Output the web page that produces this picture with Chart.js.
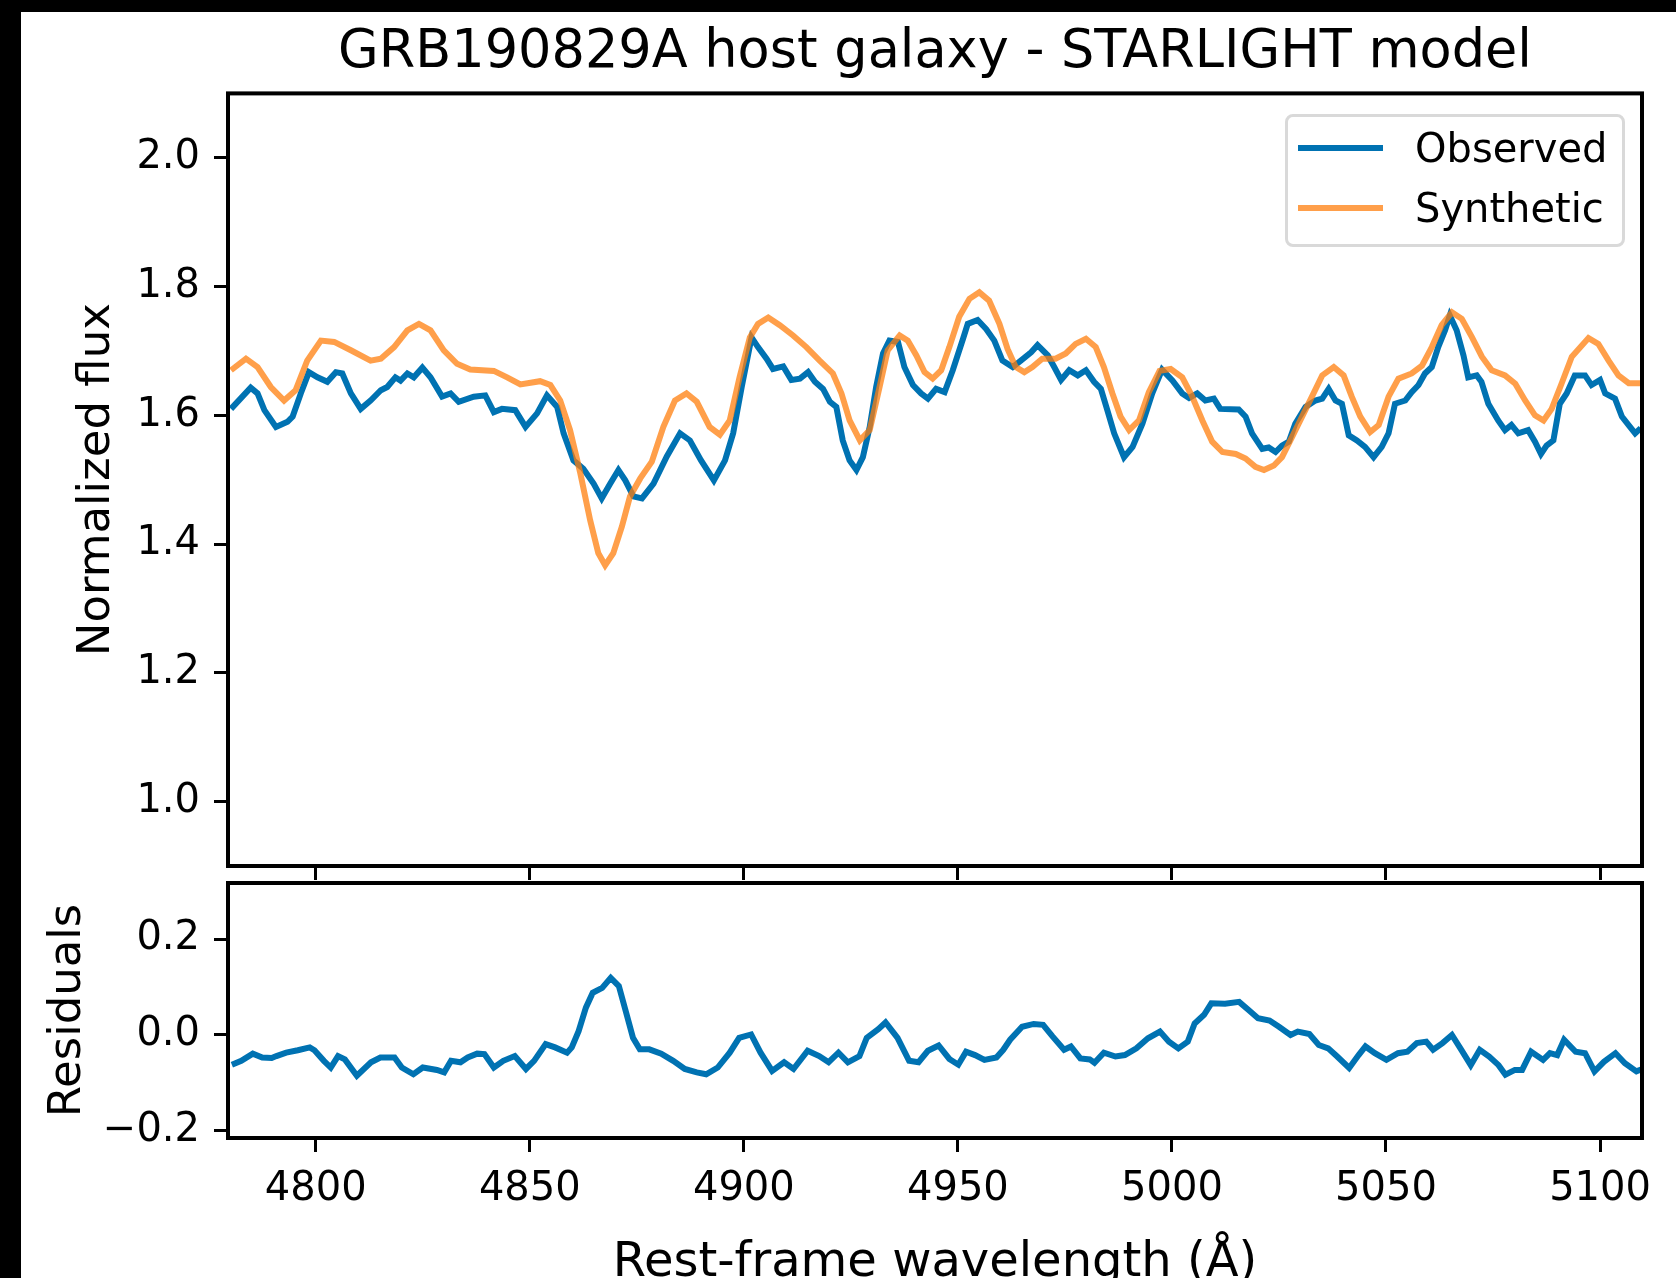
<!DOCTYPE html>
<html>
<head>
<meta charset="utf-8">
<script src="https://cdn.jsdelivr.net/npm/chart.js@4.4.1/dist/chart.umd.min.js"></script>
<style>
  html, body { margin: 0; padding: 0; width: 1676px; height: 1278px; overflow: hidden; background: #000; }
  #fig { position: absolute; left: 21px; top: 12px; width: 1655px; height: 1266px; background: #fff; overflow: hidden; }
  canvas { position: absolute; left: 0; }
  #top { top: 0; }
  #bot { top: 831px; }
  #legend { position: absolute; left: 1264px; top: 102px; width: 340px; height: 133px; box-sizing: border-box;
            border: 3px solid #d9d9d9; border-radius: 8px; background: rgba(255,255,255,0.8);
            font-family: "DejaVu Sans"; font-size: 40px; line-height: 48px; color: #000; }
  #legend .sw { position: absolute; left: 10px; width: 85px; height: 6px; }
  #legend .lab { position: absolute; left: 127px; white-space: nowrap; }
</style>
</head>
<body>
<div id="fig">
  <canvas id="top" width="1655" height="899"></canvas>
  <canvas id="bot" width="1655" height="457"></canvas>
  <div id="legend"></div>
</div>
<script>
// axis limits and ticks
const xMin = 4779.5, xMax = 5109.8;
const xTicks = [4800, 4850, 4900, 4950, 5000, 5050, 5100];
const fluxTicks = [1.0, 1.2, 1.4, 1.6, 1.8, 2.0];
const resTicks = [-0.2, 0.0, 0.2];

// observed spectrum
const obsWave = [4780.2,4784.8,4786.4,4788.0,4790.7,4793.4,4794.6,4796.5,4798.4,4800.4,4802.7,4804.7,4806.2,4808.2,4810.5,4812.8,4815.2,4816.7,4818.6,4819.8,4821.4,4822.9,4824.9,4826.8,4829.5,4831.5,4833.4,4836.9,4839.6,4841.6,4843.5,4846.6,4849.0,4851.7,4854.0,4856.4,4857.9,4860.2,4862.5,4864.9,4866.8,4868.8,4870.7,4872.3,4874.2,4876.2,4878.9,4882.0,4885.1,4887.4,4890.0,4893.0,4895.6,4897.5,4899.5,4901.8,4903.3,4905.3,4906.8,4909.2,4911.1,4913.1,4915.0,4916.6,4918.5,4920.1,4921.6,4923.1,4924.7,4926.3,4927.8,4929.4,4930.9,4932.5,4934.0,4936.0,4937.5,4939.5,4941.4,4943.0,4944.9,4946.9,4948.8,4951.2,4952.3,4954.6,4956.6,4958.5,4960.4,4962.8,4964.7,4967.1,4968.6,4971.0,4972.5,4974.1,4976.0,4978.0,4979.9,4981.8,4983.4,4984.9,4986.5,4988.8,4990.8,4993.1,4995.4,4997.7,5000.1,5002.4,5004.0,5005.9,5007.8,5009.8,5011.3,5015.6,5017.2,5018.7,5021.1,5022.6,5024.2,5025.7,5027.3,5028.8,5031.2,5033.5,5035.1,5036.6,5038.2,5039.7,5041.3,5043.2,5045.1,5047.1,5049.0,5050.6,5052.1,5054.5,5056.0,5057.6,5059.1,5060.7,5062.2,5063.8,5064.9,5066.5,5068.1,5069.2,5071.2,5072.3,5073.9,5076.2,5077.8,5079.3,5080.9,5083.2,5084.8,5086.2,5087.5,5089.1,5090.6,5092.2,5094.1,5096.5,5098.0,5100.0,5101.2,5103.5,5105.1,5107.0,5108.2,5109.5];
const obsFlux = [1.610,1.643,1.634,1.608,1.582,1.590,1.598,1.634,1.667,1.659,1.652,1.667,1.665,1.634,1.610,1.623,1.639,1.644,1.659,1.654,1.665,1.659,1.674,1.659,1.629,1.634,1.621,1.629,1.631,1.605,1.610,1.608,1.582,1.603,1.631,1.613,1.572,1.530,1.517,1.494,1.471,1.494,1.515,1.499,1.474,1.471,1.494,1.536,1.572,1.561,1.530,1.499,1.530,1.572,1.644,1.721,1.706,1.688,1.672,1.676,1.655,1.657,1.667,1.652,1.641,1.621,1.613,1.561,1.530,1.515,1.535,1.582,1.644,1.696,1.716,1.714,1.675,1.647,1.634,1.626,1.641,1.636,1.670,1.719,1.742,1.748,1.734,1.716,1.685,1.675,1.685,1.698,1.709,1.693,1.675,1.655,1.670,1.662,1.670,1.652,1.641,1.608,1.572,1.535,1.551,1.587,1.634,1.671,1.654,1.634,1.627,1.634,1.623,1.626,1.610,1.609,1.598,1.572,1.548,1.550,1.543,1.553,1.559,1.587,1.613,1.623,1.626,1.641,1.623,1.618,1.569,1.561,1.551,1.535,1.551,1.572,1.618,1.623,1.636,1.647,1.665,1.675,1.706,1.732,1.755,1.732,1.693,1.659,1.662,1.652,1.618,1.592,1.577,1.585,1.572,1.577,1.559,1.540,1.553,1.561,1.618,1.634,1.662,1.662,1.647,1.655,1.634,1.626,1.598,1.582,1.572,1.580];

// STARLIGHT synthetic spectrum
const synWave = [4780.2,4783.7,4786.4,4789.5,4792.6,4795.3,4798.0,4801.2,4804.3,4808.2,4812.8,4815.2,4818.3,4821.4,4824.1,4826.8,4829.9,4833.0,4836.1,4841.6,4844.7,4847.8,4852.4,4854.8,4857.1,4859.4,4861.8,4864.1,4866.0,4867.6,4869.5,4871.5,4873.4,4875.8,4878.5,4881.2,4883.9,4886.6,4889.0,4892.0,4894.4,4896.7,4899.0,4901.4,4903.3,4905.7,4908.4,4911.5,4914.6,4917.7,4920.8,4922.8,4924.7,4927.1,4929.4,4931.7,4933.6,4936.4,4938.3,4940.3,4942.2,4944.1,4946.1,4948.0,4950.3,4952.7,4955.0,4957.3,4959.7,4961.6,4963.5,4965.5,4967.4,4969.7,4972.8,4975.2,4977.5,4979.9,4982.2,4984.1,4986.1,4988.0,4990.0,4992.3,4994.6,4997.1,4999.7,5002.4,5004.6,5007.1,5009.4,5011.8,5014.9,5017.2,5019.5,5021.5,5023.8,5025.7,5028.1,5030.4,5032.7,5035.1,5037.8,5040.1,5042.0,5044.0,5046.3,5048.3,5050.6,5052.9,5056.0,5058.4,5060.7,5063.0,5065.4,5067.7,5070.1,5072.4,5074.7,5077.8,5080.2,5082.5,5084.8,5086.8,5088.7,5091.0,5093.4,5097.3,5099.6,5102.0,5104.3,5106.7,5109.5];
const synFlux = [1.670,1.688,1.675,1.644,1.623,1.639,1.685,1.716,1.714,1.701,1.685,1.688,1.706,1.732,1.742,1.732,1.701,1.680,1.671,1.669,1.659,1.648,1.653,1.647,1.623,1.577,1.510,1.437,1.386,1.367,1.386,1.427,1.474,1.502,1.528,1.582,1.623,1.634,1.621,1.582,1.570,1.592,1.659,1.721,1.742,1.752,1.740,1.724,1.706,1.685,1.665,1.634,1.592,1.561,1.577,1.644,1.701,1.724,1.716,1.693,1.667,1.657,1.670,1.706,1.753,1.781,1.791,1.778,1.742,1.703,1.675,1.667,1.675,1.688,1.688,1.696,1.711,1.719,1.706,1.675,1.634,1.598,1.577,1.592,1.636,1.669,1.672,1.659,1.631,1.592,1.559,1.543,1.540,1.533,1.520,1.515,1.522,1.535,1.567,1.598,1.629,1.662,1.675,1.662,1.629,1.598,1.574,1.585,1.629,1.657,1.665,1.677,1.706,1.740,1.760,1.750,1.721,1.691,1.670,1.662,1.649,1.623,1.600,1.592,1.610,1.649,1.691,1.720,1.711,1.685,1.662,1.650,1.650];

// residuals panel
const resWave = [4780.4,4782.6,4785.3,4787.5,4789.7,4790.8,4793.1,4795.8,4798.6,4799.7,4801.9,4803.5,4805.2,4806.8,4809.6,4812.9,4815.1,4818.4,4820.1,4822.8,4825.0,4828.3,4830.0,4831.6,4833.8,4835.5,4837.7,4839.4,4841.6,4843.8,4846.5,4849.1,4851.0,4853.7,4855.9,4858.7,4859.8,4861.4,4863.1,4864.7,4866.9,4868.9,4870.8,4872.4,4874.1,4875.7,4877.9,4880.7,4883.5,4886.2,4889.0,4891.2,4893.9,4896.7,4898.9,4901.7,4903.9,4906.6,4909.4,4911.6,4914.9,4917.6,4919.8,4922.1,4924.3,4927.0,4928.7,4931.4,4933.1,4935.9,4938.6,4940.8,4943.0,4945.5,4948.0,4950.1,4951.9,4954.0,4956.2,4959.0,4960.6,4962.2,4965.0,4967.7,4969.9,4972.1,4974.8,4976.4,4978.6,4980.8,4981.9,4984.1,4986.8,4989.0,4991.7,4994.4,4997.2,4999.3,5001.5,5003.7,5005.3,5007.5,5009.2,5012.4,5015.7,5017.9,5020.1,5022.8,5025.0,5027.7,5029.4,5032.1,5034.3,5036.5,5038.6,5041.4,5043.6,5045.2,5047.4,5050.1,5052.8,5055.0,5057.2,5059.4,5061.0,5063.2,5065.4,5067.6,5069.8,5071.9,5074.1,5076.3,5077.9,5080.1,5081.8,5083.9,5086.7,5088.3,5090.0,5091.6,5094.3,5096.5,5098.7,5100.9,5103.6,5105.8,5108.5,5109.6];
const resFlux = [-0.062,-0.054,-0.039,-0.047,-0.048,-0.044,-0.037,-0.032,-0.026,-0.032,-0.054,-0.068,-0.044,-0.051,-0.085,-0.057,-0.047,-0.047,-0.068,-0.082,-0.068,-0.073,-0.078,-0.054,-0.057,-0.047,-0.039,-0.040,-0.068,-0.054,-0.044,-0.071,-0.054,-0.019,-0.026,-0.037,-0.026,0.008,0.057,0.088,0.098,0.119,0.102,0.050,-0.006,-0.030,-0.030,-0.039,-0.054,-0.071,-0.078,-0.082,-0.068,-0.037,-0.006,0.001,-0.037,-0.075,-0.057,-0.071,-0.033,-0.044,-0.057,-0.037,-0.057,-0.044,-0.006,0.012,0.026,-0.006,-0.054,-0.057,-0.033,-0.022,-0.050,-0.062,-0.035,-0.042,-0.052,-0.047,-0.031,-0.010,0.017,0.023,0.021,-0.003,-0.031,-0.024,-0.049,-0.051,-0.058,-0.037,-0.045,-0.042,-0.028,-0.007,0.007,-0.014,-0.028,-0.014,0.024,0.042,0.066,0.065,0.069,0.052,0.035,0.030,0.017,0.000,0.007,0.002,-0.021,-0.028,-0.045,-0.069,-0.042,-0.024,-0.038,-0.052,-0.038,-0.035,-0.017,-0.014,-0.031,-0.017,0.000,-0.031,-0.063,-0.031,-0.045,-0.063,-0.083,-0.073,-0.073,-0.035,-0.052,-0.038,-0.042,-0.010,-0.035,-0.038,-0.076,-0.056,-0.038,-0.059,-0.076,-0.072];

const blue = '#0072B2';
const orange = 'rgba(255,127,14,0.75)';

Chart.defaults.font.family = 'DejaVu Sans';
Chart.defaults.color = '#000';

const pts = (xs, ys) => xs.map((x, i) => ({ x, y: ys[i] }));

// axes box like matplotlib spines
const frame = {
  id: 'frame',
  afterDraw(chart) {
    const { ctx, chartArea: a } = chart;
    ctx.save();
    ctx.strokeStyle = '#000';
    ctx.lineWidth = 4;
    ctx.strokeRect(a.left, a.top, a.right - a.left, a.bottom - a.top);
    ctx.restore();
  }
};

const tickGrid = { drawOnChartArea: false, drawTicks: true, tickLength: 14, tickWidth: 3, tickColor: '#000' };

function xAxis(labels) {
  return {
    type: 'linear', min: xMin, max: xMax,
    afterBuildTicks: s => { s.ticks = xTicks.map(v => ({ value: v })); },
    afterFit: s => { s.height = labels ? 162 : 45; },
    border: { display: false },
    grid: tickGrid,
    ticks: { display: labels, font: { size: 40 }, padding: 14, maxRotation: 0, autoSkip: false, callback: v => String(v) },
    title: { display: labels, text: 'Rest-frame wavelength (Å)', font: { size: 48 }, padding: { top: 0, bottom: 8 } }
  };
}

function yAxis(min, max, ticks, label, titlePad, fmt) {
  return {
    type: 'linear', min, max,
    afterBuildTicks: s => { s.ticks = ticks.map(v => ({ value: v })); },
    afterFit: s => { s.width = 207; },
    border: { display: false },
    grid: tickGrid,
    ticks: { font: { size: 40 }, padding: 14, callback: fmt },
    title: { display: true, text: label, font: { size: 45 }, padding: { top: titlePad, bottom: 0 } }
  };
}

const common = {
  responsive: false,
  animation: false,
  devicePixelRatio: 1,
  elements: { point: { radius: 0 }, line: { tension: 0, borderWidth: 6 } }
};

const topChart = new Chart(document.getElementById('top'), {
  type: 'line',
  data: {
    datasets: [
      { label: 'Observed', data: pts(obsWave, obsFlux), borderColor: blue, order: 1 },
      { label: 'Synthetic', data: pts(synWave, synFlux), borderColor: orange, order: 0 }
    ]
  },
  options: {
    ...common,
    layout: { padding: { left: 0, right: 34, top: 0, bottom: 0 } },
    plugins: {
      legend: { display: false },
      tooltip: { enabled: false },
      title: { display: true, fullSize: false, text: 'GRB190829A host galaxy - STARLIGHT model',
               font: { size: 52.5, weight: 'normal' }, color: '#000', padding: { top: 10, bottom: 8.4 } }
    },
    scales: {
      x: xAxis(false),
      y: yAxis(0.9, 2.1, fluxTicks, 'Normalized flux', 49, v => v.toFixed(1))
    }
  },
  plugins: [frame]
});

new Chart(document.getElementById('bot'), {
  type: 'line',
  data: {
    datasets: [{ label: 'Residuals', data: pts(resWave, resFlux), borderColor: blue }]
  },
  options: {
    ...common,
    layout: { padding: { left: 0, right: 34, top: 40, bottom: 0 } },
    plugins: { legend: { display: false }, tooltip: { enabled: false } },
    scales: {
      x: xAxis(true),
      y: yAxis(-0.215, 0.317, resTicks, 'Residuals', 20,
               v => (v < 0 ? '\u2212' + Math.abs(v).toFixed(1) : v.toFixed(1)))
    }
  },
  plugins: [frame]
});

// legend box inside the upper axes, built from the datasets
const legend = document.getElementById('legend');
topChart.data.datasets.forEach((ds, i) => {
  const sw = document.createElement('div');
  sw.className = 'sw';
  sw.style.top = (28 + i * 60) + 'px';
  sw.style.background = ds.borderColor;
  const lab = document.createElement('div');
  lab.className = 'lab';
  lab.style.top = (7 + i * 60) + 'px';
  lab.textContent = ds.label;
  legend.appendChild(sw);
  legend.appendChild(lab);
});
</script>
</body>
</html>
